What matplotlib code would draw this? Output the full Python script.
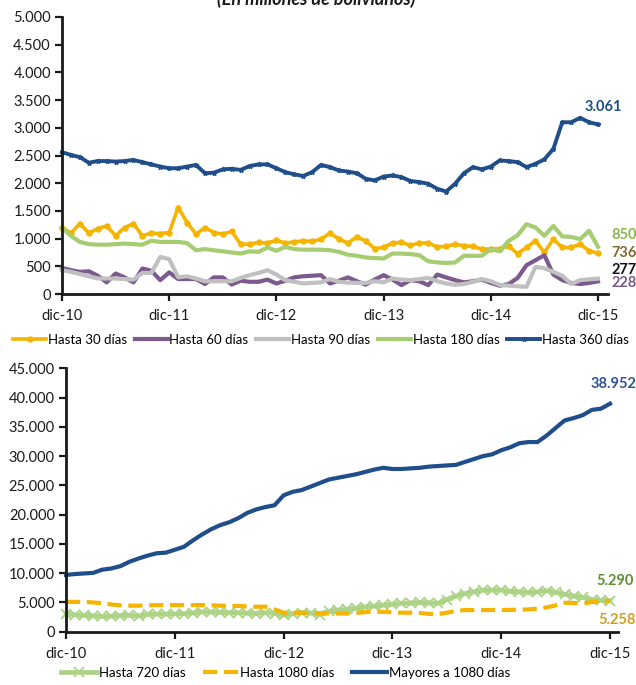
import matplotlib
matplotlib.use('Agg')
import matplotlib.pyplot as plt
from matplotlib.ticker import FuncFormatter, FixedLocator

plt.rcParams['font.family'] = ['Lato', 'DejaVu Sans']

# ---------------- data ----------------
months = list(range(61))  # dic-10 ... dic-15 (monthly)
year_ticks = [0, 12, 24, 36, 48, 60]
year_labels = ['dic-10', 'dic-11', 'dic-12', 'dic-13', 'dic-14', 'dic-15']

hasta_30 = [1200, 1100, 1270, 1100, 1180, 1230, 1050, 1200, 1270, 1050,
            1100, 1090, 1110, 1560, 1290, 1080, 1200, 1110, 1080, 1130,
            900, 900, 930, 920, 970, 920, 940, 960, 950, 990,
            1100, 990, 920, 1030, 960, 820, 840, 920, 930, 880,
            920, 920, 850, 860, 900, 870, 860, 810, 815, 820,
            860, 730, 840, 960, 750, 990, 840, 840, 900, 780, 736]
hasta_60 = [470, 430, 400, 410, 330, 210, 370, 300, 210, 460,
            420, 250, 390, 270, 270, 270, 180, 300, 300, 170,
            240, 220, 220, 260, 190, 240, 300, 320, 330, 340,
            190, 240, 300, 230, 170, 260, 340, 260, 160, 250,
            230, 160, 350, 300, 250, 210, 230, 260, 200, 150,
            180, 290, 520, 610, 700, 350, 250, 200, 180, 200, 228]
hasta_90 = [430, 400, 360, 320, 280, 280, 280, 270, 260, 380,
            380, 670, 630, 300, 320, 280, 230, 230, 230, 230,
            290, 340, 380, 430, 350, 250, 220, 190, 200, 210,
            270, 220, 205, 200, 200, 230, 210, 280, 260, 250,
            270, 290, 230, 190, 165, 180, 220, 270, 230, 165,
            150, 140, 130, 490, 465, 400, 330, 180, 250, 265, 277]
hasta_180 = [1200, 1050, 940, 900, 890, 890, 900, 910, 900, 890,
             960, 940, 940, 940, 920, 790, 810, 790, 770, 750,
             730, 770, 760, 840, 780, 850, 810, 800, 800, 800,
             790, 760, 710, 690, 660, 650, 640, 730, 730, 720,
             700, 590, 570, 560, 570, 690, 690, 690, 810, 770,
             960, 1060, 1260, 1200, 1050, 1230, 1040, 1030, 990, 1140, 850]
hasta_360 = [2560, 2510, 2470, 2370, 2400, 2400, 2390, 2400, 2420, 2380,
             2340, 2300, 2270, 2270, 2300, 2330, 2180, 2190, 2250, 2260,
             2240, 2310, 2340, 2340, 2270, 2200, 2160, 2130, 2200, 2330,
             2290, 2230, 2210, 2180, 2080, 2050, 2120, 2140, 2110, 2040,
             2020, 1990, 1900, 1850, 1990, 2180, 2290, 2250, 2300, 2410,
             2400, 2380, 2290, 2350, 2430, 2620, 3100, 3100, 3180, 3100, 3061]

hasta_720 = [3000, 2900, 2800, 2700, 2600, 2650, 2750, 2800, 2700, 2950,
             3000, 3000, 3050, 3100, 3200, 3400, 3350, 3300, 3250, 3250,
             3150, 3100, 3250, 3100, 2850, 3100, 3250, 3200, 2900, 3500,
             3700, 3800, 4000, 4250, 4400, 4550, 4700, 4850, 4900, 5000,
             4950, 4850, 5500, 6100, 6500, 6800, 7100, 7100, 7100, 6900,
             6800, 6700, 6800, 7000, 6700, 6400, 6100, 5850, 5500, 5350, 5290]
hasta_1080 = [5100, 5100, 5100, 5000, 4850, 4650, 4500, 4450, 4450, 4500,
              4550, 4550, 4550, 4550, 4550, 4550, 4500, 4450, 4400, 4400,
              4300, 4270, 4270, 3800, 3250, 3250, 3250, 3200, 3150, 3100,
              3100, 3100, 3200, 3350, 3400, 3400, 3300, 3250, 3250, 3200,
              3050, 3000, 3250, 3550, 3700, 3700, 3700, 3700, 3700, 3720,
              3760, 3800, 3950, 4150, 4500, 4950, 4900, 4850, 5050, 5250, 5258]
mayores_1080 = [9700, 9850, 9950, 10050, 10600, 10800, 11200, 11950, 12500, 13000,
                13400, 13500, 14000, 14500, 15600, 16600, 17500, 18200, 18700, 19400,
                20300, 20900, 21300, 21600, 23300, 23900, 24200, 24800, 25400, 26000,
                26300, 26600, 26900, 27300, 27700, 28000, 27800, 27800, 27900, 28000,
                28200, 28300, 28400, 28500, 29000, 29500, 30000, 30300, 31000, 31500,
                32200, 32400, 32400, 33500, 34800, 36100, 36500, 37000, 37900, 38100, 38952]

top_names = ['Hasta 30 días', 'Hasta 60 días', 'Hasta 90 días', 'Hasta 180 días', 'Hasta 360 días']
bottom_names = ['Hasta 720 días', 'Hasta 1080 días', 'Mayores a 1080 días']

# ---------------- styling ----------------
C_YEL = '#F4B400'
C_PUR = '#7D5A8E'
C_GRY = '#C0C0C0'
C_GRN = '#A6CD72'
C_BLU = '#1F4E8A'
C_GRN2 = '#ADD387'

def thousands(v, p):
    return f"{int(round(v)):,}".replace(',', '.')

W, H = 636, 685
fig = plt.figure(figsize=(W / 100, H / 100), dpi=100)

def style_axes(ax):
    for s in ['top', 'right']:
        ax.spines[s].set_visible(False)
    for s in ['left', 'bottom']:
        ax.spines[s].set_linewidth(2)
        ax.spines[s].set_color('#1a1a1a')
    ax.tick_params(axis='both', direction='out', length=5, width=1.6,
                   labelsize=10.5, colors='#1a1a1a', pad=3)
    ax.tick_params(axis='x', pad=6)
    ax.xaxis.set_major_locator(FixedLocator(year_ticks))
    ax.set_xticklabels(year_labels)
    ax.yaxis.set_major_formatter(FuncFormatter(thousands))

# ---- top axes ----
ax1 = fig.add_axes([62 / W, 1 - 294 / H, (608 - 62) / W, 277 / H])
style_axes(ax1)
ax1.set_ylim(0, 5000)
ax1.set_yticks(range(0, 5001, 500))
ax1.set_xlim(0, 60 * (608 - 62) / (598 - 62))

l30, = ax1.plot(months, hasta_30, color=C_YEL, lw=2.6, marker='o', ms=3.6,
                label=top_names[0], solid_joinstyle='round')
l60, = ax1.plot(months, hasta_60, color=C_PUR, lw=3.0, label=top_names[1], solid_joinstyle='round')
l90, = ax1.plot(months, hasta_90, color=C_GRY, lw=3.0, label=top_names[2], solid_joinstyle='round')
l180, = ax1.plot(months, hasta_180, color=C_GRN, lw=3.0, label=top_names[3], solid_joinstyle='round')
l360, = ax1.plot(months, hasta_360, color=C_BLU, lw=2.8, marker='*', ms=3.5,
                 label=top_names[4], solid_joinstyle='round')
for ln in (l30, l60, l90, l180, l360):
    ln.set_clip_on(False)

def lab(ax, y, text, color, dx, dy, ha='left'):
    ax.annotate(text, xy=(60, y), xytext=(dx, dy), textcoords='offset pixels',
                ha=ha, va='center', fontsize=10.5, fontweight='bold', color=color,
                annotation_clip=False)

lab(ax1, hasta_360[-1], thousands(hasta_360[-1], None), C_BLU, 5, 17, ha='center')
lab(ax1, hasta_180[-1], thousands(hasta_180[-1], None), '#8CB847', 13, 12)
lab(ax1, hasta_30[-1], thousands(hasta_30[-1], None), '#7F6A2E', 13, 0)
lab(ax1, hasta_90[-1], thousands(hasta_90[-1], None), '#111111', 13, 9)
lab(ax1, hasta_60[-1], thousands(hasta_60[-1], None), C_PUR, 13, -2)

fig.legend(handles=[l30, l60, l90, l180, l360], loc='center',
           bbox_to_anchor=(321 / W, 1 - 340 / H), ncol=5, frameon=False,
           fontsize=9.5, handlelength=2.5, handletextpad=0.12, columnspacing=0.6,
           borderpad=0, borderaxespad=0)

# ---- bottom axes ----
ax2 = fig.add_axes([66 / W, 1 - 631.7 / H, (618 - 66) / W, 263.4 / H])
style_axes(ax2)
ax2.set_ylim(0, 45000)
ax2.set_yticks(range(0, 45001, 5000))
ax2.set_xlim(0, 60 * (618 - 66) / (610 - 66))

l720, = ax2.plot(months, hasta_720, color=C_GRN2, lw=3.4, marker='x', ms=6.5, mew=1.3,
                 label=bottom_names[0])
l1080, = ax2.plot(months, hasta_1080, color=C_YEL, lw=3.0, ls=(0, (3.4, 1.6)),
                  label=bottom_names[1])
lmay, = ax2.plot(months, mayores_1080, color=C_BLU, lw=3.0, label=bottom_names[2],
                 solid_joinstyle='round')
for ln in (l720, l1080, lmay):
    ln.set_clip_on(False)

lab(ax2, mayores_1080[-1], thousands(mayores_1080[-1], None), '#2E5590', 4, 20, ha='center')
lab(ax2, hasta_720[-1], thousands(hasta_720[-1], None), '#5E8F31', 5, 20, ha='center')
lab(ax2, hasta_1080[-1], thousands(hasta_1080[-1], None), '#C9A028', 7, -19, ha='center')

fig.legend(handles=[l720, l1080, lmay], loc='center',
           bbox_to_anchor=(286 / W, 1 - 673 / H), ncol=3, frameon=False,
           fontsize=9.5, handlelength=2.7, handletextpad=0.15, columnspacing=1.3,
           borderpad=0, borderaxespad=0)

# ---- title (cut at the top edge as in the reference) ----
fig.text(316 / W, 1 - 5 / H, '(En millones de bolivianos)', ha='center', va='baseline',
         fontsize=13, fontweight='bold', fontstyle='italic', color='#1a1a1a')

fig.savefig('out.png', dpi=100)
